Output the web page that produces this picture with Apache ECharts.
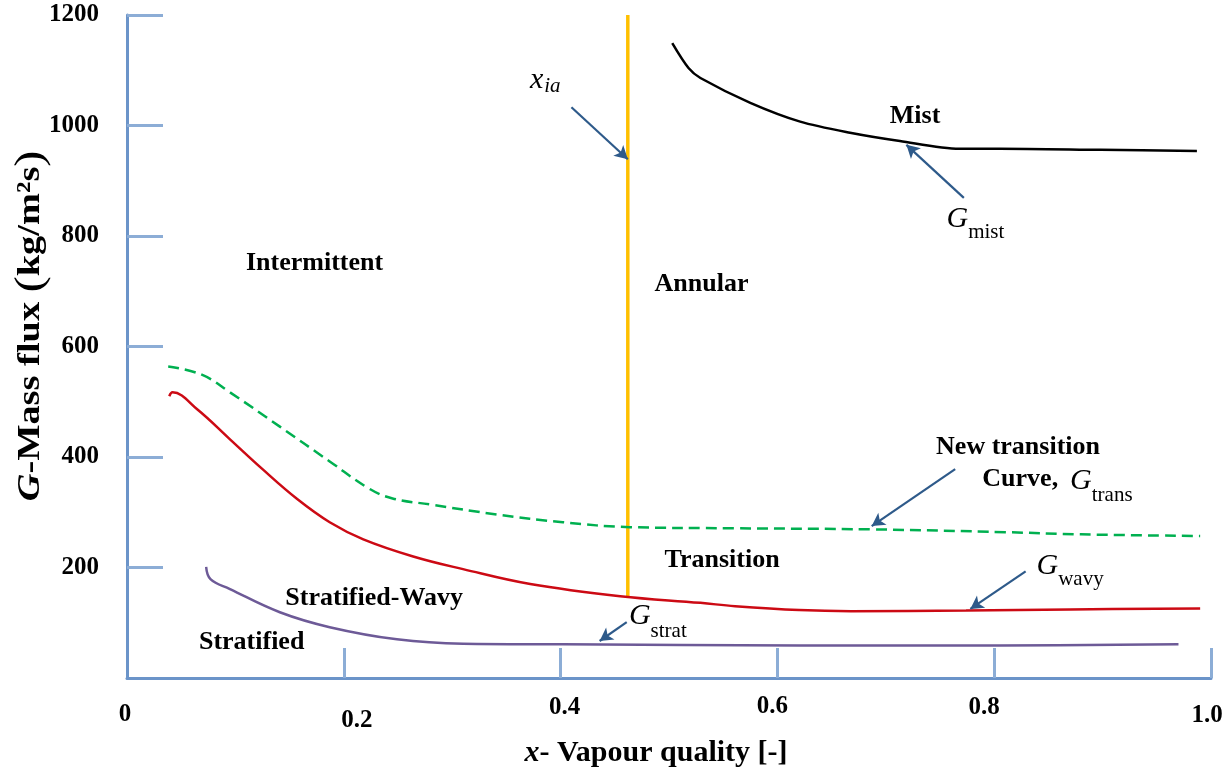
<!DOCTYPE html>
<html>
<head>
<meta charset="utf-8">
<script src="https://cdn.jsdelivr.net/npm/echarts@6/dist/echarts.min.js"></script>
<style>
html,body{margin:0;padding:0;background:#fff;}
#c{width:1229px;height:773px;}
</style>
</head>
<body>
<div id="c"></div>
<script>
// ---- data ----
const xTicks = [0, 0.2, 0.4, 0.6, 0.8, 1.0];
const xTickLabels = ['0', '0.2', '0.4', '0.6', '0.8', '1.0'];
const yTicks = [0, 200, 400, 600, 800, 1000, 1200];

const transX = [0.038, 0.069, 0.095, 0.141, 0.187, 0.224, 0.245, 0.280, 0.341, 0.402, 0.464, 0.560, 0.687, 0.810, 0.880, 0.990];
const transG = [564, 549, 517, 455, 392, 342, 325, 314, 296, 282, 273, 271, 269, 264, 260, 257];

const wavyX = [0.039, 0.042, 0.065, 0.095, 0.125, 0.157, 0.187, 0.218, 0.264, 0.310, 0.372, 0.455, 0.529, 0.561, 0.620, 0.668, 0.774, 0.870, 0.990];
const wavyG = [510, 517, 486, 432, 378, 324, 282, 251, 220, 197, 170, 148, 136, 130, 123, 121, 122, 124, 126];

const stratX = [0.073, 0.077, 0.095, 0.141, 0.187, 0.249, 0.310, 0.402, 0.621, 0.805, 0.970];
const stratG = [201, 179, 161, 119, 92, 70, 62, 61, 59, 59, 61];

const mistX = [0.503, 0.518, 0.529, 0.575, 0.621, 0.667, 0.713, 0.768, 0.805, 0.898, 0.987];
const mistG = [1149, 1104, 1086, 1041, 1007, 987, 972, 958, 958, 956, 954];

const xiaX = [0.462, 0.462];
const xiaG = [146, 1200];

// region labels
const regionText = ['Intermittent', 'Annular', 'Mist', 'Transition', 'Stratified-Wavy', 'Stratified', 'New transition'];
const regionX = [0.173, 0.530, 0.727, 0.549, 0.228, 0.115, 0.822];
const regionG = [750, 712, 1017, 213, 145, 65, 418];

// symbol labels (main letter + subscript), anchored at the junction
const symMain = ['G', 'G', 'G', 'G', 'x'];
const symSub = ['mist', 'wavy', 'strat', 'trans', 'ia'];
const symX = [0.776, 0.859, 0.483, 0.890, 0.384];
const symG = [831, 202, 112, 356, 1083];

// arrows: tail -> tip
const arrowTailX = [0.410, 0.772, 0.764, 0.829, 0.461];
const arrowTailG = [1033, 869, 378, 193, 101];
const arrowTipX = [0.462, 0.719, 0.687, 0.778, 0.436];
const arrowTipG = [939, 965, 275, 125, 67];

const zip = (a, b) => a.map((v, i) => [v, b[i]]);

const FONT = '"Liberation Serif", "Times New Roman", serif';
const AXIS_COLOR = '#6b94c9';
const TICK_COLOR = '#8cadd6';
const ARROW_COLOR = '#2e5a8a';

// per-label nudges of the x tick labels: [top, right, bottom, left]
const xLabelPad = [[10, 4, 0, 0], [16, 0, 0, 26], [3, 0, 0, 8], [2, 10, 0, 0], [3, 20, 0, 0], [11, 8, 0, 0]];
const xRich = {};
xLabelPad.forEach((p, i) => {
  xRich['l' + i] = {fontFamily: FONT, fontWeight: 'bold', fontSize: 25, color: '#000', padding: p};
});

const chart = echarts.init(document.getElementById('c'), null, {renderer: 'canvas'});

const option = {
  animation: false,
  backgroundColor: '#fff',
  grid: {left: 127, right: 18, top: 15, bottom: 94, containLabel: false},
  xAxis: {
    type: 'value', min: 0, max: 1, interval: 0.2,
    name: '{i|x}- Vapour quality [-]',
    nameLocation: 'middle', nameGap: 60,
    nameTextStyle: {
      fontFamily: FONT, fontWeight: 'bold', fontSize: 30, color: '#000',
      padding: [0, 26, 0, 0],
      rich: {i: {fontFamily: FONT, fontWeight: 'bold', fontStyle: 'italic', fontSize: 30, color: '#000'}}
    },
    axisLine: {show: true, lineStyle: {color: AXIS_COLOR, width: 3}},
    axisTick: {show: true, inside: true, length: 30, lineStyle: {color: TICK_COLOR, width: 3},
               customValues: [0.2, 0.4, 0.6, 0.8, 1.0]},
    axisLabel: {
      margin: 14, color: '#000', fontFamily: FONT, fontWeight: 'bold', fontSize: 25,
      formatter: v => { const i = xTicks.findIndex(t => Math.abs(t - v) < 1e-6); return i >= 0 ? '{l' + i + '|' + xTickLabels[i] + '}' : ''; },
      rich: xRich
    },
    splitLine: {show: false}
  },
  yAxis: {
    type: 'value', min: 0, max: 1200, interval: 200,
    axisLine: {show: true, lineStyle: {color: AXIS_COLOR, width: 3}},
    axisTick: {show: true, inside: true, length: 36, lineStyle: {color: TICK_COLOR, width: 3},
               customValues: yTicks.slice(1)},
    axisLabel: {
      margin: 28, fontFamily: FONT, fontWeight: 'bold', fontSize: 25, color: '#000',
      formatter: v => (v === 0 ? '' : String(v))
    },
    splitLine: {show: false}
  },
  series: [
    {
      name: 'Gtrans', type: 'line', data: zip(transX, transG), smooth: 0.4, symbol: 'none',
      lineStyle: {color: '#00b050', width: 2.5, type: [11, 6]}, z: 3
    },
    {
      name: 'Gwavy', type: 'line', data: zip(wavyX, wavyG), smooth: 0.4, symbol: 'none',
      lineStyle: {color: '#cc0a14', width: 2.5}, z: 3
    },
    {
      name: 'Gstrat', type: 'line', data: zip(stratX, stratG), smooth: 0.4, symbol: 'none',
      lineStyle: {color: '#6d5a97', width: 2.5}, z: 3
    },
    {
      name: 'Gmist', type: 'line', data: zip(mistX, mistG), smooth: 0.3, symbol: 'none',
      lineStyle: {color: '#000', width: 2.5}, z: 3
    },
    {
      name: 'xia', type: 'line', data: zip(xiaX, xiaG), symbol: 'none',
      lineStyle: {color: '#ffc000', width: 3.5}, z: 2,
      markLine: {
        silent: true, animation: false,
        symbol: ['none', 'arrow'], symbolSize: [11, 13],
        label: {show: false},
        lineStyle: {color: ARROW_COLOR, width: 2.2, type: 'solid'},
        data: arrowTailX.map((x, i) => [
          {coord: [x, arrowTailG[i]]},
          {coord: [arrowTipX[i], arrowTipG[i]]}
        ])
      }
    }
  ]
};

chart.setOption(option);

// text annotations placed through the chart's own coordinate system
const px = (x, g) => chart.convertToPixel({gridIndex: 0}, [x, g]);
const graphics = [];

// y-axis title (stretched along its reading direction like the source)
graphics.push({
  type: 'text', x: 31, y: 326, rotation: Math.PI / 2, scaleX: 1.2, scaleY: 1, z: 10,
  style: {
    text: '{i|G}-Mass flux {p|(}kg/m²s{p|)}',
    fontFamily: FONT, fontWeight: 'bold', fontSize: 32, fill: '#000',
    align: 'center', verticalAlign: 'middle',
    rich: {
      i: {fontFamily: FONT, fontWeight: 'bold', fontStyle: 'italic', fontSize: 32, fill: '#000'},
      p: {fontFamily: FONT, fontWeight: 'normal', fontSize: 40, fill: '#000'}
    }
  }
});

regionText.forEach((t, i) => {
  const p = px(regionX[i], regionG[i]);
  graphics.push({
    type: 'text', x: p[0], y: p[1], z: 10,
    style: {text: t, fontFamily: FONT, fontWeight: 'bold', fontSize: 26, fill: '#000', align: 'center', verticalAlign: 'middle'}
  });
});
// "Curve," ahead of G_trans
{
  const p = px(0.859, 359);
  graphics.push({
    type: 'text', x: p[0], y: p[1], z: 10,
    style: {text: 'Curve,', fontFamily: FONT, fontWeight: 'bold', fontSize: 26, fill: '#000', align: 'right', verticalAlign: 'middle'}
  });
}
const subDy = [14, 13, 15, 14, 7];
const subSize = [21, 21, 21, 21, 21];
symMain.forEach((t, i) => {
  const p = px(symX[i], symG[i]);
  const isX = t === 'x';
  graphics.push({
    type: 'text', x: p[0], y: p[1], z: 10,
    style: {text: t, fontFamily: FONT, fontStyle: 'italic', fontSize: 30, fill: '#000', align: 'right', verticalAlign: 'middle'}
  });
  graphics.push({
    type: 'text', x: p[0] + (isX ? 1 : 0), y: p[1] + subDy[i], z: 10,
    style: {text: symSub[i], fontFamily: FONT, fontStyle: isX ? 'italic' : 'normal', fontSize: subSize[i], fill: '#000', align: 'left', verticalAlign: 'middle'}
  });
});
chart.setOption({graphic: graphics});
</script>
</body>
</html>
